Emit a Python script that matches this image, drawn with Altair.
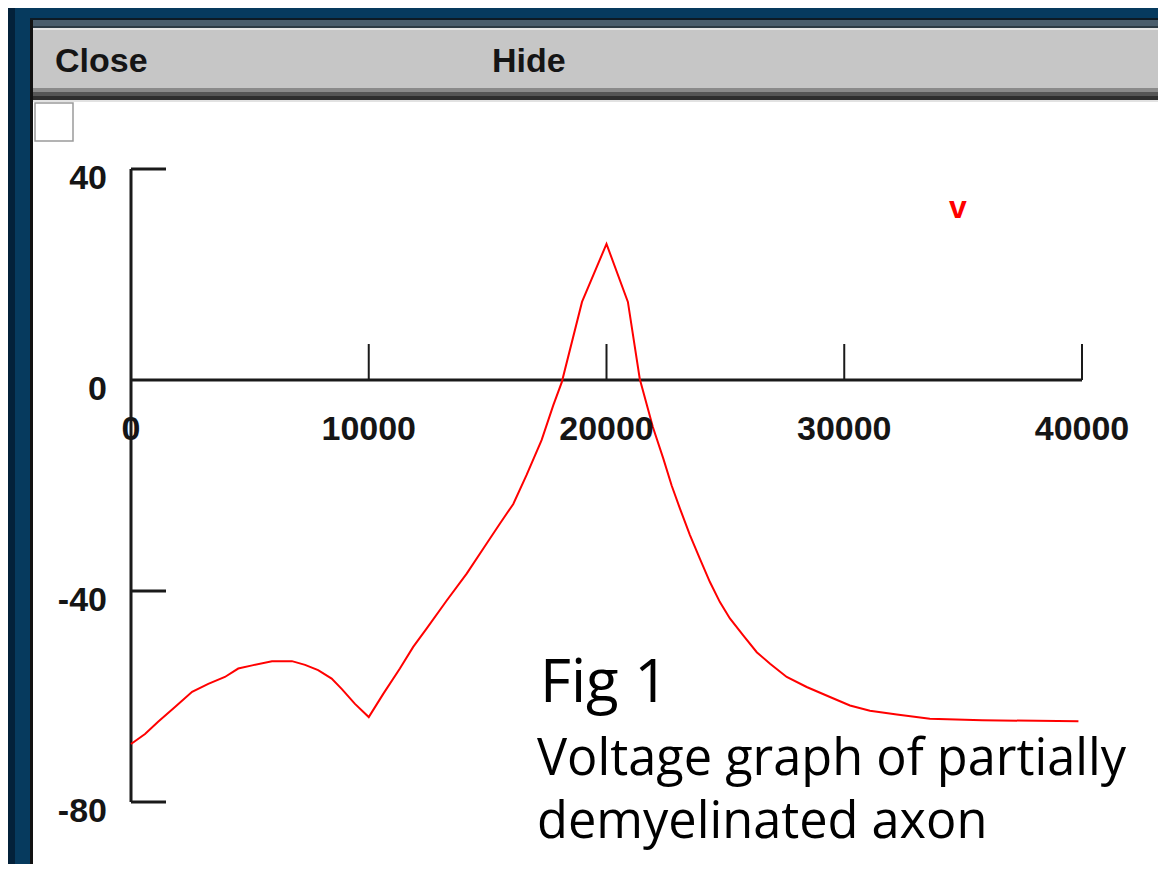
import altair as alt
import pandas as pd

# ---- data ----
x_pos = [0, 590, 1140, 1850, 2570, 3250, 3950, 4510, 5100, 5930,
         6770, 7320, 7870, 8440, 8870, 9420, 10000,
         10610, 11310, 11870, 12440, 13280, 14120, 14960, 15520, 16080,
         16640, 17270, 17760, 18120, 18970, 20000,
         20900, 21400, 21950, 22390, 22740, 23090, 23510, 23930, 24350,
         24770, 25190, 25750, 26320, 26880, 27580, 28420, 29400, 30240,
         31080, 32210, 33600, 35800, 39850]
v_mv = [-69.0, -67.1, -64.8, -62.0, -59.1, -57.6, -56.3, -54.7, -54.1, -53.3,
        -53.3, -54.0, -55.0, -56.6, -58.6, -61.4, -63.9,
        -59.5, -54.7, -50.6, -47.1, -41.8, -36.7, -31.0, -27.2, -23.5,
        -18.0, -11.4, -4.8, -0.4, 14.8, 25.8,
        14.8, 0.2, -8.9, -14.9, -20.0, -24.4, -29.4, -33.9, -38.3,
        -42.1, -45.2, -48.4, -51.6, -53.8, -56.3, -58.2, -60.1, -61.7,
        -62.7, -63.4, -64.2, -64.5, -64.7]

x_ticks = [0, 10000, 20000, 30000, 40000]
x_tick_labels = ["0", "10000", "20000", "30000", "40000"]
y_ticks = [40, 0, -40, -80]
y_tick_labels = ["40", "0", "-40", "-80"]
title_buttons = ["Close", "Hide"]
caption = ["Fig 1", "Voltage graph of partially", "demyelinated axon"]
series_name = "v"

# ---- canvas geometry ----
W, H = 1150, 856
X0_PX, X1_PX = 123, 1074      # pixel positions of x=0 and x=40000
Y0_PX, Y1_PX = 161, 794       # pixel positions of y=40 and y=-80
px_per_x = (X1_PX - X0_PX) / 40000
px_per_y = (Y1_PX - Y0_PX) / 120
xdom = [-X0_PX / px_per_x, 40000 + (W - X1_PX) / px_per_x]
ydom = [-80 - (H - Y1_PX) / px_per_y, 40 + Y0_PX / px_per_y]
xs = alt.Scale(domain=xdom, nice=False, zero=False)
ys = alt.Scale(domain=ydom, nice=False, zero=False)

ytick_len = 35 / px_per_x
xtick_len = 36 / px_per_y

one = pd.DataFrame({"k": [0]})


def box(x, x2, y, y2, color, **kw):
    return alt.Chart(one).mark_rect(color=color, **kw).encode(
        x=alt.value(x), x2=alt.value(x2), y=alt.value(y), y2=alt.value(y2))


frame = [
    box(0, W, 0, 10, "#063a5e"),
    box(0, W, 10, 12, "#0d1a24"),
    box(22, W, 12, 18, "#4a5d6c"),
    box(22, W, 18, 20, "#2c3a44"),
    box(22, W, 20, 22, "#e4e4e4"),
    box(22, W, 22, 80, "#c6c6c6"),
    box(22, W, 80, 84, "#8a8a8a"),
    box(22, W, 84, 88, "#555555"),
    box(22, W, 88, 92, "#2e2e2e"),
    box(22, W, 92, 94, "#e2e2e2"),
    box(0, 7, 0, H, "#03213a"),
    box(7, 22, 0, H, "#063a5e"),
    box(22, 25, 12, H, "#111111"),
    box(27, 65, 95, 133, "#ffffff", stroke="#9a9a9a", strokeWidth=1.5),
]

btn_df = pd.DataFrame({"t": title_buttons, "px": [47, 484]})
buttons = alt.Chart(btn_df).mark_text(
    font="Liberation Sans", fontWeight="bold", fontSize=34, color="#151515",
    align="left", baseline="alphabetic").encode(
    text="t:N", x=alt.X("px:Q", scale=None), y=alt.value(64))

curve_df = pd.DataFrame({"x": x_pos, "v": v_mv})
curve = alt.Chart(curve_df).mark_line(color="#ff0000", strokeWidth=2).encode(
    x=alt.X("x:Q", scale=xs, axis=None),
    y=alt.Y("v:Q", scale=ys, axis=None),
    order="x:Q")

axis_black = "#1a1a1a"
yaxis = alt.Chart(pd.DataFrame({"x": [0], "y": [min(y_ticks)], "y2": [max(y_ticks)]})).mark_rule(
    color=axis_black, strokeWidth=3).encode(
    x=alt.X("x:Q", scale=xs, axis=None), y=alt.Y("y:Q", scale=ys, axis=None), y2="y2:Q")
xaxis = alt.Chart(pd.DataFrame({"x": [0], "x2": [max(x_ticks)], "y": [0]})).mark_rule(
    color=axis_black, strokeWidth=3).encode(
    x=alt.X("x:Q", scale=xs, axis=None), x2="x2:Q", y=alt.Y("y:Q", scale=ys, axis=None))

yt_df = pd.DataFrame({"y": y_ticks, "lab": y_tick_labels})
yt_df["x"] = 0.0
yt_df["x2"] = ytick_len
yticks = alt.Chart(yt_df[yt_df.y != 0]).mark_rule(color=axis_black, strokeWidth=3).encode(
    x=alt.X("x:Q", scale=xs, axis=None), x2="x2:Q", y=alt.Y("y:Q", scale=ys, axis=None))
ylabels = alt.Chart(yt_df).mark_text(
    font="Liberation Sans", fontWeight="bold", fontSize=34, color="#151515",
    align="right", baseline="alphabetic", dx=-24, dy=20).encode(
    x=alt.X("x:Q", scale=xs, axis=None), y=alt.Y("y:Q", scale=ys, axis=None), text="lab:N")

xt_df = pd.DataFrame({"x": x_ticks, "lab": x_tick_labels})
xt_df["y"] = 0.0
xt_df["y2"] = xtick_len
xticks = alt.Chart(xt_df[xt_df.x != 0]).mark_rule(color=axis_black, strokeWidth=2).encode(
    x=alt.X("x:Q", scale=xs, axis=None), y=alt.Y("y:Q", scale=ys, axis=None), y2="y2:Q")
xlabels = alt.Chart(xt_df).mark_text(
    font="Liberation Sans", fontWeight="bold", fontSize=34, color="#151515",
    align="center", baseline="alphabetic", dy=60).encode(
    x=alt.X("x:Q", scale=xs, axis=None), y=alt.Y("y:Q", scale=ys, axis=None), text="lab:N")

legend = alt.Chart(pd.DataFrame({"t": [series_name]})).mark_text(
    font="Liberation Sans", fontWeight="bold", fontSize=32, color="#ff0000",
    align="center", baseline="alphabetic").encode(
    text="t:N", x=alt.value(950), y=alt.value(210))

cap_df = pd.DataFrame({"t": caption, "py": [694, 767, 830], "fs": [60, 50.5, 50.5],
                       "px": [532, 529, 529]})
captions = alt.Chart(cap_df).mark_text(
    font="Open Sans", color="#000000", align="left", baseline="alphabetic").encode(
    text="t:N", x=alt.X("px:Q", scale=None), y=alt.Y("py:Q", scale=None),
    size=alt.Size("fs:Q", scale=None, legend=None))

chart = alt.layer(*frame, buttons, xaxis, yaxis, xticks, yticks, curve,
                  xlabels, ylabels, legend, captions).properties(
    width=W, height=H, padding=0, background="#ffffff",
    autosize=alt.AutoSizeParams(type="fit", contains="padding")
).configure_view(stroke=None)

chart.save("out.html", embed_options={"renderer": "svg", "actions": False})
